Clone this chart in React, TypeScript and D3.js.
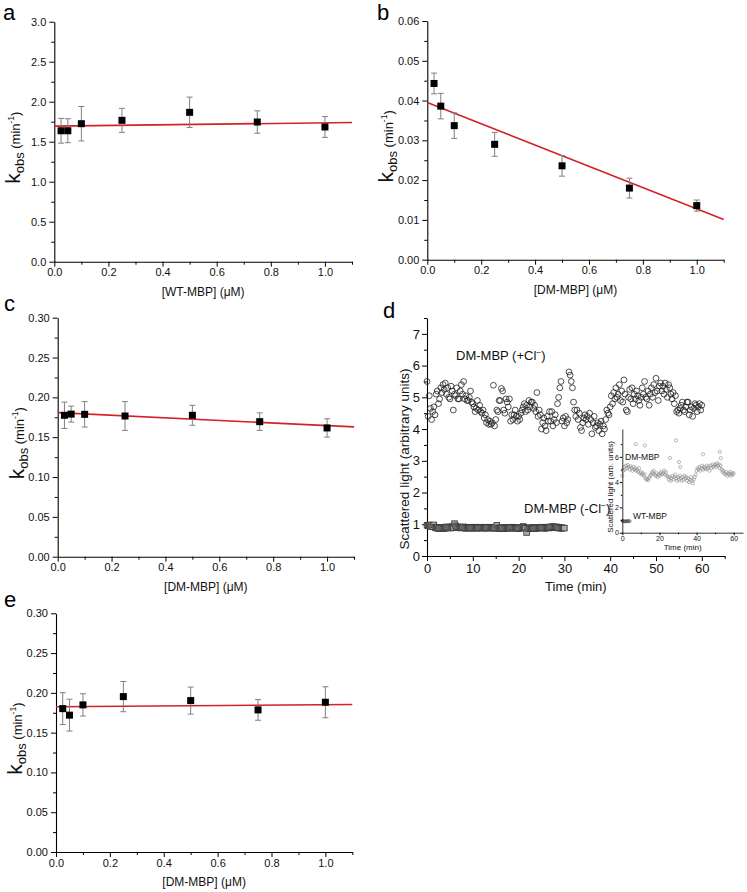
import React, { useRef, useEffect } from "react"
import * as d3 from "d3"

// concentrations used in panels a, b, c, e (µM)
const conc = [0.025, 0.05, 0.1, 0.25, 0.5, 0.75, 1.0]

const kobsA = [1.637, 1.637, 1.725, 1.767, 1.867, 1.746, 1.684]
const errA = [0.155, 0.15, 0.215, 0.15, 0.19, 0.14, 0.13]
const fitA = [1.695, 1.74] // fit at x = 0 and x = 1.1

const kobsB = [0.0443, 0.0386, 0.0337, 0.029, 0.0236, 0.018, 0.0136]
const errB = [0.0026, 0.0032, 0.0032, 0.003, 0.0026, 0.0025, 0.0014]
const fitB = [0.0395, 0.0101]

const kobsC = [0.1775, 0.179, 0.1787, 0.1766, 0.1775, 0.1695, 0.1616]
const errC = [0.0165, 0.01, 0.016, 0.018, 0.0125, 0.011, 0.0115]
const fitC = [0.1808, 0.1629]

const kobsE = [0.1802, 0.172, 0.1849, 0.1953, 0.1903, 0.1786, 0.1882]
const errE = [0.02, 0.02, 0.014, 0.019, 0.017, 0.013, 0.0195]
const fitE = [0.1825, 0.1853]

const xTicks = [0, 0.2, 0.4, 0.6, 0.8, 1.0]
const xMinor = [0.1, 0.3, 0.5, 0.7, 0.9, 1.1]

// panel d: scattered light, DM-MBP (+Cl-), one reading every 0.25 min
const plusStep = 0.25
const plusVals = [
  5.50, 4.40, 5.05, 4.65, 4.30, 4.55, 4.70, 4.45, 5.10, 5.20, 4.80, 4.95,
  5.30, 5.15, 5.40, 5.25, 5.45, 5.10, 5.30, 5.00, 4.95, 5.35, 5.20, 4.60,
  5.10, 5.05, 5.30, 4.95, 4.95, 5.20, 5.40, 5.10, 5.50, 4.95, 5.05, 4.90,
  4.90, 5.00, 5.20, 4.85, 4.80, 4.70, 4.55, 4.65, 4.90, 4.60, 4.75, 4.55,
  4.50, 4.60, 4.35, 4.45, 4.20, 4.30, 4.15, 4.25, 4.15, 4.20, 5.38, 4.10,
  4.30, 4.60, 4.55, 4.90, 4.90, 5.28, 5.20, 4.60, 4.50, 4.95, 4.85, 4.70,
  4.95, 4.25, 4.45, 4.30, 4.45, 4.60, 4.40, 4.25, 4.40, 4.30, 4.50, 4.60,
  4.70, 4.80, 4.55, 4.75, 4.60, 4.90, 4.70, 4.85, 4.85, 4.65, 4.75, 4.55,
  5.15, 4.40, 4.60, 4.45, 4.00, 4.20, 4.35, 4.10, 3.95, 4.40, 4.25, 4.55,
  4.25, 4.55, 4.10, 4.30, 4.45, 4.20, 4.80, 5.00, 5.30, 5.50, 4.25, 4.35,
  4.10, 4.40, 4.20, 4.30, 5.80, 5.70, 5.50, 5.30, 4.85, 4.60, 4.40, 4.60,
  4.30, 4.50, 4.05, 3.95, 4.20, 4.35, 4.45, 4.30, 4.40, 4.15, 4.50, 4.30,
  3.85, 4.20, 4.40, 4.05, 4.10, 4.20, 3.95, 4.15, 4.25, 3.85, 4.10, 4.00,
  4.30, 4.60, 4.50, 4.45, 4.70, 5.05, 4.80, 5.15, 4.95, 5.30, 5.00, 5.10,
  5.40, 4.90, 5.20, 4.85, 5.55, 5.10, 4.60, 4.55, 5.00, 5.25, 4.95, 5.30,
  4.80, 5.10, 4.95, 5.20, 5.05, 4.90, 4.75, 5.00, 5.30, 5.10, 5.50, 5.00,
  4.95, 5.20, 4.75, 5.10, 5.30, 5.00, 5.40, 5.15, 5.60, 5.20, 4.90, 5.35,
  5.45, 5.20, 5.35, 5.10, 5.45, 5.25, 5.00, 5.40, 5.30, 5.10, 4.95, 5.15,
  4.80, 5.05, 4.55, 4.60, 4.50, 4.65, 4.75, 4.85, 4.60, 4.55, 4.70, 4.85,
  4.85, 4.45, 4.60, 4.70, 4.40, 4.65, 4.80, 4.75, 4.55, 4.70, 4.80, 4.60,
  4.75,
]

// DM-MBP (-Cl-), every 0.25 min up to 30 min
const minusStep = 0.25
const minusVals = [
  0.97, 0.95, 0.98, 0.93, 0.96, 0.92, 0.98, 0.90, 0.88, 0.90, 0.86, 0.89,
  0.87, 0.90, 0.88, 0.86, 0.89, 0.92, 0.88, 0.90, 0.91, 0.88, 0.93, 0.90,
  1.02, 0.95, 0.90, 0.92, 0.89, 0.91, 0.88, 0.90, 0.92, 0.89, 0.87, 0.90,
  0.88, 0.90, 0.89, 0.87, 0.90, 0.88, 0.91, 0.89, 0.87, 0.90, 0.88, 0.89,
  0.91, 0.88, 0.90, 0.87, 0.89, 0.90, 0.88, 0.91, 0.88, 0.90, 0.87, 0.89,
  0.90, 0.97, 0.88, 0.86, 0.89, 0.87, 0.90, 0.88, 0.86, 0.89, 0.88, 0.90,
  0.87, 0.89, 0.91, 0.88, 0.90, 0.87, 0.89, 0.88, 0.86, 0.89, 0.88, 0.90,
  0.93, 0.90, 0.87, 0.74, 0.88, 0.86, 0.89, 0.87, 0.90, 0.88, 0.86, 0.89,
  0.87, 0.90, 0.88, 0.89, 0.91, 0.88, 0.90, 0.87, 0.89, 0.91, 0.88, 0.90,
  0.92, 0.90, 0.93, 0.91, 0.89, 0.92, 0.90, 0.88, 0.90, 0.87, 0.89, 0.88,
  0.88,
]

// inset: DM-MBP every 0.5 min, a few outliers, WT-MBP
const insetStep = 0.5
const insetDM = [
  4.5, 4.9, 5.2, 5.0, 5.3, 5.1, 5.35, 5.2, 5.0, 5.25,
  5.1, 4.9, 5.2, 5.0, 5.1, 4.9, 5.0, 4.8, 5.1, 4.7,
  4.8, 4.6, 4.7, 4.5, 4.6, 4.3, 4.2, 4.25, 4.15, 4.35,
  4.5, 4.6, 4.8, 4.7, 4.9, 4.6, 4.5, 4.7, 4.4, 4.6,
  4.5, 4.7, 4.8, 4.6, 4.7, 4.9, 4.6, 4.8, 4.5, 4.4,
  4.2, 4.4, 4.1, 4.3, 4.5, 4.2, 4.4, 4.6, 4.3, 4.1,
  4.4, 4.2, 4.5, 4.3, 4.1, 4.4, 4.2, 4.5, 4.3, 4.4,
  4.1, 4.3, 4.0, 4.2, 4.4, 4.1, 3.9, 4.2, 4.4, 4.6,
  4.9, 5.1, 5.0, 5.2, 4.9, 5.1, 5.3, 5.0, 5.2, 5.1,
  5.0, 5.3, 5.1, 5.2, 4.9, 5.3, 5.1, 5.4, 5.2, 5.3,
  5.4, 5.2, 5.5, 5.3, 5.4, 5.1, 5.3, 5.0, 4.8, 4.9,
  4.7, 4.6, 4.8, 4.5, 4.7, 4.6, 4.8, 4.5, 4.7, 4.6,
  4.7,
]
const insetOutT = [7.2, 12.2, 25.7, 28.9, 30.5, 31.2, 43.5, 52.5, 53.0]
const insetOutV = [7.0, 6.9, 5.9, 7.3, 5.6, 5.2, 6.2, 6.4, 5.9]
const insetWT = [0.95, 0.9, 0.92, 0.88, 0.9, 0.93, 0.9, 0.91, 0.92]

const FONT = "'Liberation Sans', Arial, Helvetica, sans-serif"
const RED = "#d42027"
const BAR = "#808080"

const styleAxis = (g, size) => {
  g.attr("font-family", FONT).attr("font-size", size)
  g.selectAll("line").attr("stroke", "#000")
  g.selectAll("path").attr("stroke", "#000").attr("stroke-width", 1.1)
  g.selectAll("text").attr("fill", "#111")
}

const drawKinetics = (root, o) => {
  const x = d3.scaleLinear().domain([0, 1.1]).range([o.left, o.right])
  const y = d3.scaleLinear().domain([0, o.yMax]).range([o.bottom, o.top])
  const g = root.append("g")

  const yMajor = d3.range(0, o.yMax + o.yStep / 10, o.yStep)
  const yMinor = yMajor.slice(0, -1).map(v => v + o.yStep / 2)

  g.append("g")
    .attr("transform", `translate(0,${o.bottom})`)
    .call(d3.axisBottom(x).tickValues(xMinor).tickFormat(() => "").tickSize(3))
    .call(s => styleAxis(s, 11))
    .select(".domain").remove()
  g.append("g")
    .attr("transform", `translate(0,${o.bottom})`)
    .call(d3.axisBottom(x).tickValues(xTicks).tickFormat(d3.format(".1f")).tickSize(5).tickSizeOuter(0).tickPadding(2))
    .call(s => styleAxis(s, 11))

  g.append("g")
    .attr("transform", `translate(${o.left},0)`)
    .call(d3.axisLeft(y).tickValues(yMinor).tickFormat(() => "").tickSize(3))
    .call(s => styleAxis(s, 11))
    .select(".domain").remove()
  g.append("g")
    .attr("transform", `translate(${o.left},0)`)
    .call(d3.axisLeft(y).tickValues(yMajor).tickFormat(d3.format(o.yFmt)).tickSize(5).tickSizeOuter(0).tickPadding(3))
    .call(s => styleAxis(s, 11))

  // fit line
  const line = d3.line().x(d => x(d[0])).y(d => y(d[1]))
  g.append("path")
    .attr("d", line([[0, o.fit[0]], [1.1, o.fit[1]]]))
    .attr("fill", "none")
    .attr("stroke", RED)
    .attr("stroke-width", 1.6)

  // error bars
  const bars = g.append("g").attr("stroke", BAR).attr("stroke-width", 1)
  conc.forEach((c, i) => {
    const lo = y(o.values[i] - o.errors[i]), hi = y(o.values[i] + o.errors[i])
    bars.append("line").attr("x1", x(c)).attr("x2", x(c)).attr("y1", lo).attr("y2", hi)
    bars.append("line").attr("x1", x(c) - 3).attr("x2", x(c) + 3).attr("y1", lo).attr("y2", lo)
    bars.append("line").attr("x1", x(c) - 3).attr("x2", x(c) + 3).attr("y1", hi).attr("y2", hi)
  })

  g.append("g")
    .selectAll("rect")
    .data(conc)
    .enter()
      .append("rect")
      .attr("x", (c) => x(c) - 3.5)
      .attr("y", (c, i) => y(o.values[i]) - 3.5)
      .attr("width", 7)
      .attr("height", 7)
      .attr("fill", "#000")

  // axis titles
  const yt = g.append("text")
    .attr("transform", `translate(${o.left - 34},${(o.top + o.bottom) / 2 + 6}) rotate(-90)`)
    .attr("text-anchor", "middle")
    .attr("font-family", FONT)
    .attr("fill", "#111")
  yt.append("tspan").attr("font-size", 21).text("k")
  yt.append("tspan").attr("font-size", 13).attr("dy", 4).text("obs")
  yt.append("tspan").attr("font-size", 13).attr("dy", -4).text(" (min")
  yt.append("tspan").attr("font-size", 8.5).attr("dy", -6).text("-1")
  yt.append("tspan").attr("font-size", 13).attr("dy", 6).text(")")

  g.append("text")
    .attr("x", (o.left + o.right) / 2)
    .attr("y", o.bottom + 34)
    .attr("text-anchor", "middle")
    .attr("font-family", FONT)
    .attr("font-size", 12)
    .attr("fill", "#111")
    .text(o.xLabel)

  g.append("text")
    .attr("x", o.letterX)
    .attr("y", o.letterY)
    .attr("font-family", FONT)
    .attr("font-size", 22)
    .attr("fill", "#000")
    .text(o.letter)
}

const drawScatter = (root) => {
  const left = 427, right = 724.7, top = 318, bottom = 556
  const x = d3.scaleLinear().domain([0, 65]).range([left, right])
  const y = d3.scaleLinear().domain([0, 7.5]).range([bottom, top])
  const g = root.append("g")

  g.append("g")
    .attr("transform", `translate(0,${bottom})`)
    .call(d3.axisBottom(x).tickValues([5, 15, 25, 35, 45, 55, 65]).tickFormat(() => "").tickSize(3))
    .call(s => styleAxis(s, 13))
    .select(".domain").remove()
  g.append("g")
    .attr("transform", `translate(0,${bottom})`)
    .call(d3.axisBottom(x).tickValues(d3.range(0, 61, 10)).tickSize(5).tickSizeOuter(0).tickPadding(3))
    .call(s => styleAxis(s, 13))
  g.append("g")
    .attr("transform", `translate(${left},0)`)
    .call(d3.axisLeft(y).tickValues(d3.range(0.5, 7.6, 1)).tickFormat(() => "").tickSize(3))
    .call(s => styleAxis(s, 13))
    .select(".domain").remove()
  g.append("g")
    .attr("transform", `translate(${left},0)`)
    .call(d3.axisLeft(y).tickValues(d3.range(0, 8, 1)).tickSize(5).tickSizeOuter(0).tickPadding(2))
    .call(s => styleAxis(s, 13))

  g.append("g")
    .selectAll("rect")
    .data(minusVals)
    .enter()
      .append("rect")
      .attr("x", (v, i) => x(i * minusStep) - 2.8)
      .attr("y", v => y(v) - 2.8)
      .attr("width", 5.6)
      .attr("height", 5.6)
      .attr("fill", "#aaa")
      .attr("stroke", "#333")
      .attr("stroke-width", 0.8)

  g.append("g")
    .selectAll("circle")
    .data(plusVals)
    .enter()
      .append("circle")
      .attr("cx", (v, i) => x(i * plusStep))
      .attr("cy", v => y(v))
      .attr("r", 2.9)
      .attr("fill", "none")
      .attr("stroke", "#222")
      .attr("stroke-width", 0.8)

  g.append("text")
    .attr("transform", `translate(409,459) rotate(-90)`)
    .attr("text-anchor", "middle")
    .attr("font-family", FONT)
    .attr("font-size", 13.5)
    .attr("fill", "#111")
    .text("Scattered light (arbitrary units)")

  g.append("text")
    .attr("x", (left + right) / 2)
    .attr("y", bottom + 35)
    .attr("text-anchor", "middle")
    .attr("font-family", FONT)
    .attr("font-size", 13)
    .attr("fill", "#111")
    .text("Time (min)")

  const lab = (tx, ty, sign) => {
    const t = g.append("text")
      .attr("x", tx).attr("y", ty)
      .attr("font-family", FONT).attr("font-size", 13).attr("fill", "#111")
    t.append("tspan").text(`DM-MBP (${sign}Cl`)
    t.append("tspan").attr("font-size", 8.5).attr("dy", -5).text("−")
    t.append("tspan").attr("dy", 5).text(")")
  }
  lab(456, 360, "+")
  lab(524, 513, "-")

  g.append("text")
    .attr("x", 383)
    .attr("y", 318)
    .attr("font-family", FONT)
    .attr("font-size", 22)
    .attr("fill", "#000")
    .text("d")

  // inset
  const ileft = 622.3, iright = 743, itop = 429, ibottom = 532.7
  const ix = d3.scaleLinear().domain([0, 65]).range([ileft, iright])
  const iy = d3.scaleLinear().domain([0, 8.2]).range([ibottom, itop])
  const ig = g.append("g")

  ig.append("g")
    .selectAll("circle")
    .data(insetDM)
    .enter()
      .append("circle")
      .attr("cx", (v, i) => ix(i * insetStep))
      .attr("cy", v => iy(v))
      .attr("r", 1.6)
      .attr("fill", "none")
      .attr("stroke", "#8a8a8a")
      .attr("stroke-width", 0.6)
  ig.append("g")
    .selectAll("circle")
    .data(insetOutT)
    .enter()
      .append("circle")
      .attr("cx", t => ix(t))
      .attr("cy", (t, i) => iy(insetOutV[i]))
      .attr("r", 1.6)
      .attr("fill", "none")
      .attr("stroke", "#8a8a8a")
      .attr("stroke-width", 0.6)
  ig.append("g")
    .selectAll("circle")
    .data(insetWT)
    .enter()
      .append("circle")
      .attr("cx", (v, i) => ix(i * insetStep))
      .attr("cy", v => iy(v))
      .attr("r", 1.4)
      .attr("fill", "none")
      .attr("stroke", "#444")
      .attr("stroke-width", 0.6)

  ig.append("g")
    .attr("transform", `translate(0,${ibottom})`)
    .call(d3.axisBottom(ix).tickValues([10, 30, 50]).tickFormat(() => "").tickSize(1.5))
    .call(s => styleAxis(s, 7))
    .select(".domain").remove()
  ig.append("g")
    .attr("transform", `translate(0,${ibottom})`)
    .call(d3.axisBottom(ix).tickValues([0, 20, 40, 60]).tickSize(2.5).tickSizeOuter(0).tickPadding(1))
    .call(s => styleAxis(s, 7))
  ig.append("g")
    .attr("transform", `translate(${ileft},0)`)
    .call(d3.axisLeft(iy).tickValues([1, 3, 5, 7]).tickFormat(() => "").tickSize(1.5))
    .call(s => styleAxis(s, 7))
    .select(".domain").remove()
  ig.append("g")
    .attr("transform", `translate(${ileft},0)`)
    .call(d3.axisLeft(iy).tickValues([0, 2, 4, 6]).tickSize(2.5).tickSizeOuter(0).tickPadding(1))
    .call(s => styleAxis(s, 7))
  ig.selectAll("path.domain").attr("stroke-width", 0.8)

  ig.append("text")
    .attr("transform", `translate(613,487) rotate(-90)`)
    .attr("text-anchor", "middle")
    .attr("font-family", FONT)
    .attr("font-size", 8)
    .attr("fill", "#111")
    .text("Scattered light (arb. units)")
  ig.append("text")
    .attr("x", (ileft + iright) / 2)
    .attr("y", ibottom + 17.5)
    .attr("text-anchor", "middle")
    .attr("font-family", FONT)
    .attr("font-size", 8)
    .attr("fill", "#111")
    .text("Time (min)")
  ig.append("text")
    .attr("x", 625).attr("y", 460)
    .attr("font-family", FONT).attr("font-size", 8.5).attr("fill", "#111")
    .text("DM-MBP")
  ig.append("text")
    .attr("x", 633).attr("y", 519)
    .attr("font-family", FONT).attr("font-size", 8.5).attr("fill", "#111")
    .text("WT-MBP")
}

const Figure = () => {
  let element = useRef(null)

  useEffect(() => {
    const svg = d3.select(element.current)
    svg.selectAll("*").remove()

    drawKinetics(svg, {
      letter: "a", letterX: 3, letterY: 20,
      left: 54.3, right: 352, top: 21.7, bottom: 261.7,
      yMax: 3.0, yStep: 0.5, yFmt: ".1f",
      values: kobsA, errors: errA, fit: fitA, xLabel: "[WT-MBP] (μM)",
    })
    drawKinetics(svg, {
      letter: "b", letterX: 377, letterY: 20,
      left: 427.3, right: 723.7, top: 21, bottom: 259.7,
      yMax: 0.06, yStep: 0.01, yFmt: ".2f",
      values: kobsB, errors: errB, fit: fitB, xLabel: "[DM-MBP] (μM)",
    })
    drawKinetics(svg, {
      letter: "c", letterX: 4, letterY: 311,
      left: 57.7, right: 354, top: 317.7, bottom: 556.7,
      yMax: 0.30, yStep: 0.05, yFmt: ".2f",
      values: kobsC, errors: errC, fit: fitC, xLabel: "[DM-MBP] (μM)",
    })
    drawKinetics(svg, {
      letter: "e", letterX: 4, letterY: 607,
      left: 56, right: 352.3, top: 613.3, bottom: 852,
      yMax: 0.30, yStep: 0.05, yFmt: ".2f",
      values: kobsE, errors: errE, fit: fitE, xLabel: "[DM-MBP] (μM)",
    })
    drawScatter(svg)

    return () => {
      if (element.current) d3.select(element.current).selectAll("*").remove()
    }
  })

  return <svg ref={element} width={747} height={892} style={{ display: "block" }} />
}

export default function App() {
  return (
    <div style={{ position: "absolute", left: 0, top: 0, width: 747, height: 892, background: "#fff" }}>
      <Figure />
    </div>
  )
}
